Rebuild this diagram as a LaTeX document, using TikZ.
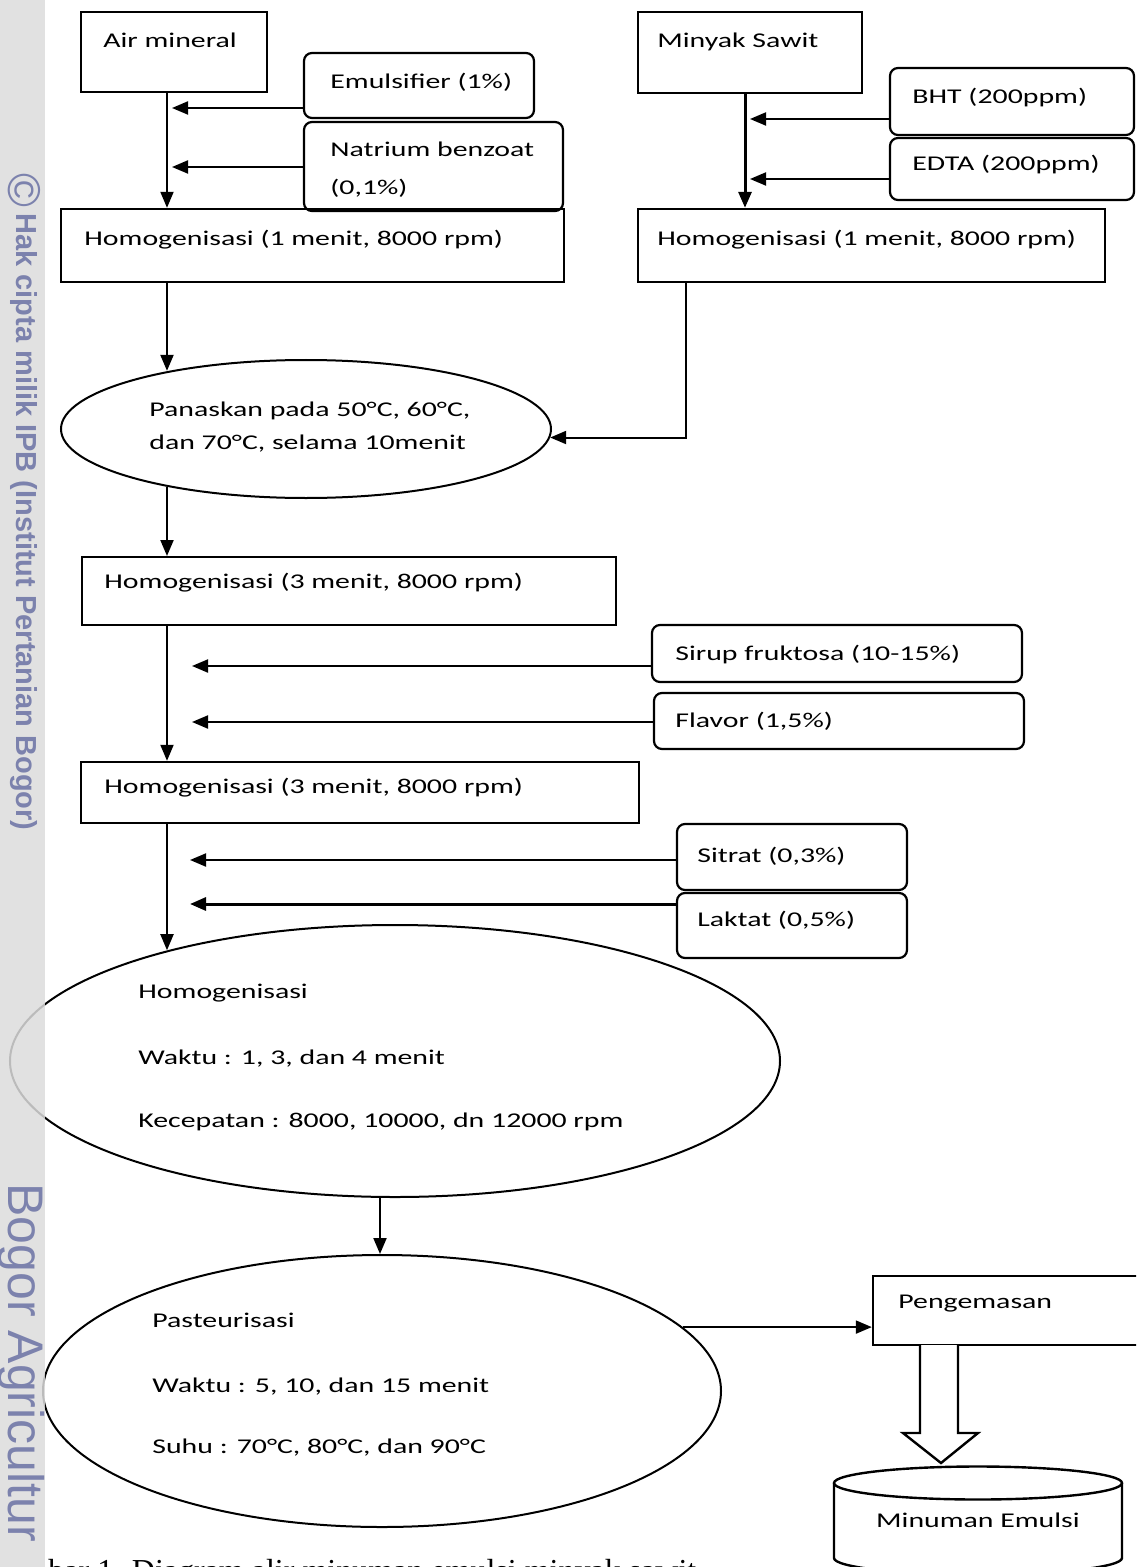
\documentclass[tikz,border=0pt]{standalone}
\usepackage{fontspec}
\setmainfont{Carlito}[FakeStretch=1.42]
\newfontfamily\capfont{Liberation Serif}
\newfontfamily\wmfont{Liberation Sans}
\usetikzlibrary{arrows.meta,shapes.geometric}
\definecolor{wm}{HTML}{7C82AD}
\definecolor{sidegrey}{HTML}{DCDCDC}
\begin{document}
\begin{tikzpicture}[x=0.5pt,y=-0.5pt,
  box/.style={draw, line width=1.2pt, rectangle, inner sep=0pt},
  rbox/.style={draw, line width=1.1pt, rounded corners=4pt, inner sep=0pt},
  oval/.style={draw, line width=1pt, ellipse, inner sep=0pt},
  txt/.style={anchor=base west, inner sep=0pt, font=\fontsize{10.5pt}{12pt}\selectfont},
  arr/.style={line width=1pt, -{Triangle[length=8pt,width=6.5pt]}},
  wmtxt/.style={rotate=-90, text=wm, inner sep=0pt},
]
\useasboundingbox (0,0) rectangle (1136,1567);
\clip (0,0) rectangle (1136,1567);

% ---------- boxes ----------
\node[box, minimum width=93pt, minimum height=40pt] (air) at (174,52) {};
\node[rbox, minimum width=115pt, minimum height=32.5pt] (emul) at (419,85.5) {};
\node[rbox, minimum width=129.5pt, minimum height=44.5pt] (natr) at (433.5,166.5) {};
\node[box, minimum width=251.5pt, minimum height=36.5pt] (hom1) at (312.5,245.5) {};
\node[box, minimum width=112pt, minimum height=40.5pt] (minyak) at (750,52.5) {};
\node[rbox, minimum width=122pt, minimum height=33.5pt] (bht) at (1012,101.5) {};
\node[rbox, minimum width=122pt, minimum height=31pt] (edta) at (1012,169) {};
\node[box, minimum width=233.5pt, minimum height=36.5pt] (hom2) at (871.5,245.5) {};
\node[oval, minimum width=245pt, minimum height=69pt] (ell1) at (306,429) {};
\node[box, line width=1pt, minimum width=267pt, minimum height=34pt] (hom3) at (349,591) {};
\node[rbox, minimum width=185pt, minimum height=28.5pt] (sirup) at (837,653.5) {};
\node[rbox, minimum width=185pt, minimum height=28pt] (flav) at (839,721) {};
\node[box, minimum width=279pt, minimum height=30.5pt] (hom4) at (360,792.5) {};
\node[rbox, minimum width=115pt, minimum height=33pt] (sitrat) at (792,857) {};
\node[rbox, minimum width=115pt, minimum height=32.5pt] (laktat) at (792,925.5) {};
\node[oval, minimum width=385pt, minimum height=136pt] (ell2) at (395,1061) {};
\node[oval, minimum width=339pt, minimum height=136pt] (ell3) at (382,1391) {};
\node[box, minimum width=138.5pt, minimum height=34.5pt] (peng) at (1011.5,1310.5) {};

% ---------- texts ----------
\node[txt] (tair) at (103,48) {Air mineral};
\node[txt] (temul) at (330,89) {Emulsifier (1\%)};
\node[txt] (tnat1) at (330,157) {Natrium benzoat};
\node[txt] (tnat2) at (330,195) {(0,1\%)};
\node[txt] (th1) at (84,246) {Homogenisasi (1 menit, 8000 rpm)};
\node[txt] (tmin) at (657,48) {Minyak Sawit};
\node[txt] (tbht) at (912,104) {BHT (200ppm)};
\node[txt] (tedta) at (912,171) {EDTA (200ppm)};
\node[txt] (th2) at (657,246) {Homogenisasi (1 menit, 8000 rpm)};
\node[txt] (te1a) at (149,416) {Panaskan pada 50°C, 60°C,};
\node[txt] (te1b) at (149,449) {dan 70°C, selama 10menit};
\node[txt] (th3) at (104,588) {Homogenisasi (3 menit, 8000 rpm)};
\node[txt] (tsir) at (675,660) {Sirup fruktosa (10-15\%)};
\node[txt] (tfla) at (675,727) {Flavor (1,5\%)};
\node[txt] (th4) at (104,793) {Homogenisasi (3 menit, 8000 rpm)};
\node[txt] (tsit) at (697,862) {Sitrat (0,3\%)};
\node[txt] (tlak) at (697,926) {Laktat (0,5\%)};
\node[txt] (te2a) at (138,998) {Homogenisasi};
\node[txt] (te2b) at (138,1064) {Waktu : 1, 3, dan 4 menit};
\node[txt] (te2c) at (138,1127) {Kecepatan : 8000, 10000, dn 12000 rpm};
\node[txt] (te3a) at (152,1327) {Pasteurisasi};
\node[txt] (te3b) at (152,1392) {Waktu : 5, 10, dan 15 menit};
\node[txt] (te3c) at (152,1453) {Suhu : 70°C, 80°C, dan 90°C};
\node[txt] (tpeng) at (898,1308) {Pengemasan};

% ---------- connectors ----------
\coordinate (vL) at (167,0);
\coordinate (vR) at (745,0);
\coordinate (vR2) at (686,0);
\coordinate (vM) at (380,0);
\coordinate (a1) at (172,108);
\coordinate (a2) at (172,167);
\coordinate (a3) at (750,119);
\coordinate (a4) at (750,179);
\coordinate (a5) at (192,666);
\coordinate (a6) at (192,722);
\coordinate (a7) at (190,860);
\coordinate (a8) at (190,904);

\draw[arr] (air.south -| vL) -- (hom1.north -| vL);
\draw[arr] (emul.west |- a1) -- (a1);
\draw[arr] (natr.west |- a2) -- (a2);
\draw[arr, line width=1.5pt] (minyak.south -| vR) -- (hom2.north -| vR);
\draw[arr] (bht.west |- a3) -- (a3);
\draw[arr] (edta.west |- a4) -- (a4);
\draw[arr] (hom2.south -| vR2) |- (ell1.-2);
\draw[arr] (hom1.south -| vL) -- (vL |- ell1.157.7);
\draw[arr] (vL |- ell1.-157.7) -- (hom3.north -| vL);
\draw[arr] (hom3.south -| vL) -- (hom4.north -| vL);
\draw[arr] (sirup.west |- a5) -- (a5);
\draw[arr] (flav.west |- a6) -- (a6);
\draw[arr] (hom4.south -| vL) -- (vL |- ell2.154.3);
\draw[arr] (sitrat.west |- a7) -- (a7);
\draw[arr, line width=1.5pt] (laktat.west |- a8) -- (a8);
\draw[arr] (vM |- ell2.south) -- (vM |- ell3.north);
\draw[arr] (ell3.12) -- (ell3.12 -| peng.west);

% ---------- block arrow and cylinder ----------
\draw[line width=1.2pt, fill=white] (920,1345) -- (920,1433) -- (903,1433) -- (941,1463) -- (978,1433) -- (958,1433) -- (958,1345);
\draw[line width=1.2pt] (834,1483) -- (834,1558) arc[start angle=180, end angle=360, x radius=72pt, y radius=8.25pt] -- (1122,1483);
\draw[line width=1.2pt] (978,1483) ellipse [x radius=72pt, y radius=8.25pt];
\node[txt, anchor=base] (tminum) at (978,1527) {Minuman Emulsi};

% ---------- caption (cut off at the page edge, as in the reference) ----------
\node[anchor=base west, inner sep=0pt, font=\capfont\fontsize{16pt}{16pt}\selectfont] (cap) at (48,1581) {bar 1. Diagram alir minuman emulsi minyak sawit};

% ---------- sidebar watermark ----------
\fill[sidegrey, opacity=0.85] (0,0) rectangle (45,1567);
\node[wmtxt, font=\wmfont\fontsize{23pt}{23pt}\selectfont] (wmc) at (24,190) {©};
\node[wmtxt, anchor=base west, font=\wmfont\bfseries\fontsize{14.5pt}{15pt}\selectfont] (wm1) at (17,213) {Hak cipta milik IPB (Institut Pertanian Bogor)};
\node[wmtxt, anchor=base west, font=\wmfont\fontsize{25pt}{25pt}\selectfont] (wm2) at (9,1183) {Bogor Agricultur};
\end{tikzpicture}
\end{document}
